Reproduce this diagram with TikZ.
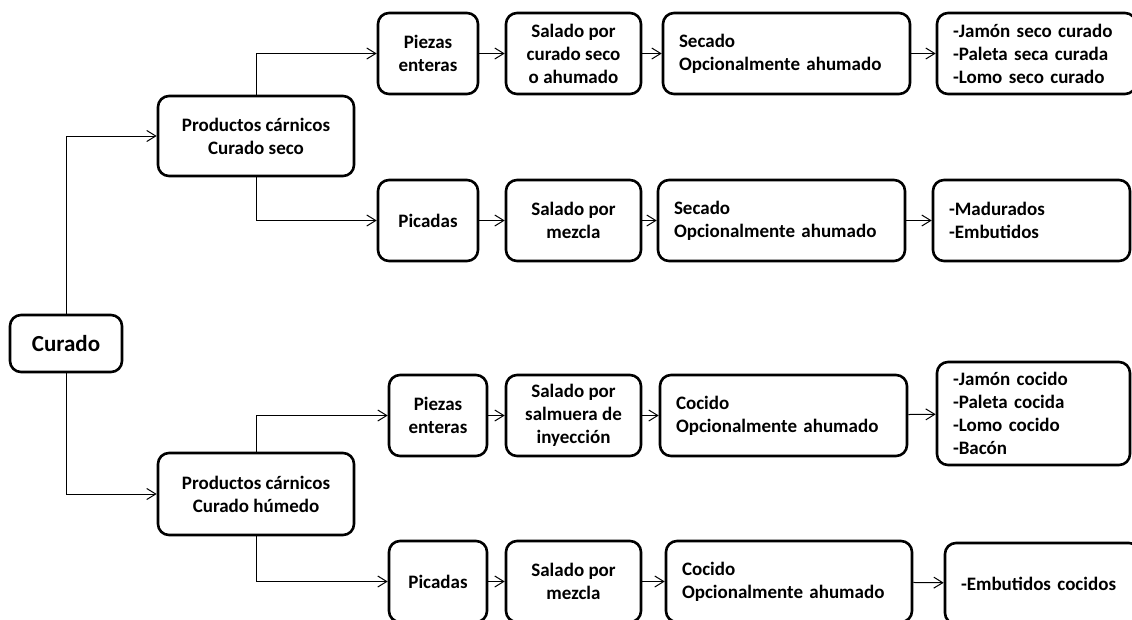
\documentclass[tikz,border=0pt]{standalone}
\usepackage{fontspec}
\setmainfont{Carlito}
\usetikzlibrary{positioning, calc, arrows.meta}

\tikzset{
  caja/.style={draw, line width=2.6pt, rounded corners=11pt, align=center,
    inner sep=2pt, font=\bfseries\fontsize{19}{23}\selectfont},
  cajal/.style={caja, align=left, inner xsep=16pt},
  flecha/.style={line width=1pt, -{Straight Barb[length=9pt,width=11pt]}},
}

\begin{document}
\begin{tikzpicture}[x=1pt, y=-1pt]
   \useasboundingbox (0,0) rectangle (1132,619);

   % raiz y ramas
   \node[caja, minimum width=112pt, minimum height=57pt, font=\bfseries\fontsize{23}{27}\selectfont] (curado) at (66,343.5) {Curado};
   \node[caja, minimum width=196pt, minimum height=80pt] (seco) at (256,136) {Productos cárnicos\\Curado seco};
   \node[caja, minimum width=196pt, minimum height=82pt] (humedo) at (256,494) {Productos cárnicos\\Curado húmedo};

   % curado seco, piezas enteras
   \node[caja, minimum width=100pt, minimum height=81pt] (pz1) at (428,53.5) {Piezas\\enteras};
   \node[caja, minimum width=135pt, minimum height=81pt] (sal1) at (573.5,53.5) {Salado por\\curado seco\\o ahumado};
   \node[cajal, text width=215pt, minimum height=81pt] (sec1) at (786.5,53.5) {Secado\\Opcionalmente ahumado};
   \node[cajal, text width=167pt, minimum height=81pt] (out1) at (1036.5,53.5) {-Jamón seco curado\\-Paleta seca curada\\-Lomo seco curado};

   % curado seco, picadas
   \node[caja, minimum width=100pt, minimum height=81pt] (pic2) at (428,220.5) {Picadas};
   \node[caja, minimum width=135pt, minimum height=81pt] (sal2) at (573.5,220.5) {Salado por\\mezcla};
   \node[cajal, text width=215pt, minimum height=81pt] (sec2) at (781.5,220.5) {Secado\\Opcionalmente ahumado};
   \node[cajal, text width=165pt, minimum height=81pt] (out2) at (1031.5,220.5) {-Madurados\\-Embutidos};

   % curado humedo, piezas enteras
   \node[caja, minimum width=98pt, minimum height=81pt] (pz3) at (438,415.5) {Piezas\\enteras};
   \node[caja, minimum width=135pt, minimum height=81pt] (sal3) at (573.5,415.5) {Salado por\\salmuera de\\inyección};
   \node[cajal, text width=215pt, minimum height=81pt] (coc3) at (783.5,415.5) {Cocido\\Opcionalmente ahumado};
   \node[cajal, text width=161pt, minimum height=103pt] (out3) at (1033.5,413.5) {-Jamón cocido\\-Paleta cocida\\-Lomo cocido\\-Bacón};

   % curado humedo, picadas
   \node[caja, minimum width=98pt, minimum height=81pt] (pic4) at (438,581.5) {Picadas};
   \node[caja, minimum width=135pt, minimum height=81pt] (sal4) at (573.5,581.5) {Salado por\\mezcla};
   \node[cajal, text width=214pt, minimum height=81pt] (coc4) at (789,581.5) {Cocido\\Opcionalmente ahumado};
   \node[cajal, text width=163pt, minimum height=81pt] (out4) at (1042.5,583.5) {-Embutidos cocidos};

   \draw[flecha] (curado.north) |- (seco);
   \draw[flecha] (curado.south) |- (humedo);
   \draw[flecha] (seco.north) |- (pz1);
   \draw[flecha] (seco.south) |- (pic2);
   \draw[flecha] (humedo.north) |- (pz3);
   \draw[flecha] (humedo.south) |- (pic4);

   \path[flecha]
    (pz1) edge (sal1)  (sal1) edge (sec1)  (sec1) edge (out1)
    (pic2) edge (sal2) (sal2) edge (sec2)  (sec2) edge (out2)
    (pz3) edge (sal3)  (sal3) edge (coc3)  (coc3) edge (out3)
    (pic4) edge (sal4) (sal4) edge (coc4)  (coc4) edge (out4);
\end{tikzpicture}
\end{document}
